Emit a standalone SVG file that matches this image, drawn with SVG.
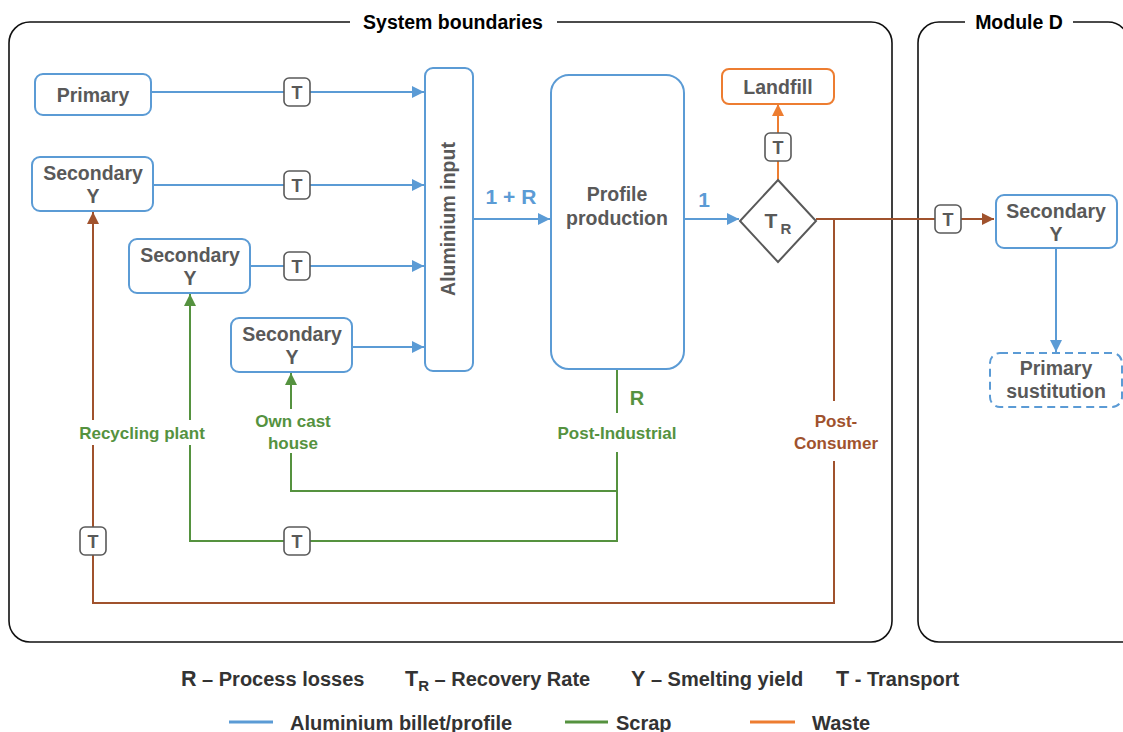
<svg xmlns="http://www.w3.org/2000/svg" width="1123" height="732" viewBox="0 0 1123 732">
<defs>
<style>
.bnd{fill:none;stroke:#111;stroke-width:1.6}
.ttl{font-family:"Liberation Sans",Arial,sans-serif;font-weight:bold;font-size:19.5px;fill:#000}
.node{fill:#fff;stroke:#5b9bd5;stroke-width:2}
.nodeo{fill:#fff;stroke:#ed7d31;stroke-width:2}
.noded{fill:#fff;stroke:#5b9bd5;stroke-width:2;stroke-dasharray:8,5}
.nt{font-family:"Liberation Sans",Arial,sans-serif;font-weight:bold;font-size:19.5px;fill:#595959;text-anchor:middle}
.tbox{fill:#fff;stroke:#595959;stroke-width:1.6}
.tt{font-family:"Liberation Sans",Arial,sans-serif;font-weight:bold;font-size:18px;fill:#595959;text-anchor:middle}
.b{fill:none;stroke:#5b9bd5;stroke-width:2}
.g{fill:none;stroke:#55923f;stroke-width:2}
.r{fill:none;stroke:#a0522d;stroke-width:2}
.o{fill:none;stroke:#ed7d31;stroke-width:2}
.lb{font-family:"Liberation Sans",Arial,sans-serif;font-weight:bold;font-size:21px;fill:#5b9bd5;text-anchor:middle}
.lg{font-family:"Liberation Sans",Arial,sans-serif;font-weight:bold;font-size:17px;fill:#55923f;text-anchor:middle}
.lr{font-family:"Liberation Sans",Arial,sans-serif;font-weight:bold;font-size:17px;fill:#a0522d;text-anchor:middle}
.leg{font-family:"Liberation Sans",Arial,sans-serif;font-weight:bold;font-size:20px;fill:#333}
</style>
<marker id="ab" viewBox="0 0 10 10" refX="10" refY="5" markerWidth="12" markerHeight="12" markerUnits="userSpaceOnUse" orient="auto"><path d="M0,0 L10,5 L0,10 z" fill="#5b9bd5"/></marker>
<marker id="ag" viewBox="0 0 10 10" refX="10" refY="5" markerWidth="12" markerHeight="12" markerUnits="userSpaceOnUse" orient="auto"><path d="M0,0 L10,5 L0,10 z" fill="#55923f"/></marker>
<marker id="ar" viewBox="0 0 10 10" refX="10" refY="5" markerWidth="12" markerHeight="12" markerUnits="userSpaceOnUse" orient="auto"><path d="M0,0 L10,5 L0,10 z" fill="#a0522d"/></marker>
<marker id="ao" viewBox="0 0 10 10" refX="10" refY="5" markerWidth="12" markerHeight="12" markerUnits="userSpaceOnUse" orient="auto"><path d="M0,0 L10,5 L0,10 z" fill="#ed7d31"/></marker>
</defs>
<rect width="1123" height="732" fill="#fff"/>

<g id="system-boundaries">
<path class="bnd" d="M350,22 H30 A21,21 0 0 0 9,43 V621 A21,21 0 0 0 30,642 H871 A21,21 0 0 0 892,621 V43 A21,21 0 0 0 871,22 H557"/>
<text class="ttl" x="453" y="29" text-anchor="middle">System boundaries</text>
</g>
<g id="module-d">
<path class="bnd" d="M965,22 H939 A21,21 0 0 0 918,43 V621 A21,21 0 0 0 939,642 H1123 M1073,22 H1108 A21,21 0 0 1 1129,43"/>
<text class="ttl" x="1019" y="29" text-anchor="middle">Module D</text>
</g>

<g id="connectors">
<path class="b" d="M151,92 H284"/>
<path class="b" d="M310,92 H424" marker-end="url(#ab)"/>
<path class="b" d="M153,185 H284"/>
<path class="b" d="M310,185 H424" marker-end="url(#ab)"/>
<path class="b" d="M250,266 H284"/>
<path class="b" d="M310,266 H424" marker-end="url(#ab)"/>
<path class="b" d="M352,347 H424" marker-end="url(#ab)"/>
<path class="b" d="M473,219 H550" marker-end="url(#ab)"/>
<path class="b" d="M684,219 H739" marker-end="url(#ab)"/>
<path class="b" d="M1056,248 V352" marker-end="url(#ab)"/>
<path class="o" d="M778,180 V161"/>
<path class="o" d="M778,133 V104" marker-end="url(#ao)"/>
<path class="r" d="M816,219 H935"/>
<path class="r" d="M961,219 H994" marker-end="url(#ar)"/>
<path class="r" d="M834,219 V401"/>
<path class="r" d="M834,461 V603 H93 V555"/>
<path class="r" d="M93,527 V445"/>
<path class="r" d="M93,420 V212" marker-end="url(#ar)"/>
<path class="g" d="M617,369 V413"/>
<path class="g" d="M617,452 V541 H310"/>
<path class="g" d="M284,541 H190 V445"/>
<path class="g" d="M190,420 V294" marker-end="url(#ag)"/>
<path class="g" d="M617,491 H291 V453"/>
<path class="g" d="M291,409 V373" marker-end="url(#ag)"/>
<text class="lb" x="511" y="204">1 + R</text>
<text class="lb" x="704" y="207">1</text>
<text class="lg" x="637" y="405" style="font-size:20px">R</text>
<text class="lg" x="617" y="439">Post-Industrial</text>
<text class="lg" x="142" y="439">Recycling plant</text>
<text class="lg" x="293" y="427">Own cast</text>
<text class="lg" x="293" y="449">house</text>
<text class="lr" x="836" y="427">Post-</text>
<text class="lr" x="836" y="449">Consumer</text>
</g>

<g id="t1"><rect class="tbox" x="284" y="78" width="26" height="28" rx="5"/><text class="tt" x="297" y="99">T</text></g>
<g id="t2"><rect class="tbox" x="284" y="171" width="26" height="28" rx="5"/><text class="tt" x="297" y="192">T</text></g>
<g id="t3"><rect class="tbox" x="284" y="252" width="26" height="28" rx="5"/><text class="tt" x="297" y="273">T</text></g>
<g id="t4"><rect class="tbox" x="765" y="133" width="26" height="28" rx="5"/><text class="tt" x="778" y="154">T</text></g>
<g id="t5"><rect class="tbox" x="935" y="205" width="26" height="28" rx="5"/><text class="tt" x="948" y="226">T</text></g>
<g id="t6"><rect class="tbox" x="80" y="527" width="26" height="28" rx="5"/><text class="tt" x="93" y="548">T</text></g>
<g id="t7"><rect class="tbox" x="284" y="527" width="26" height="28" rx="5"/><text class="tt" x="297" y="548">T</text></g>

<g id="primary"><rect class="node" x="35" y="74" width="116" height="41" rx="8"/><text class="nt" x="93" y="102">Primary</text></g>
<g id="secondary1"><rect class="node" x="32" y="157" width="121" height="54" rx="8"/><text class="nt" x="93" y="180">Secondary</text><text class="nt" x="93" y="203">Y</text></g>
<g id="secondary2"><rect class="node" x="129" y="239" width="121" height="54" rx="8"/><text class="nt" x="190" y="262">Secondary</text><text class="nt" x="190" y="285">Y</text></g>
<g id="secondary3"><rect class="node" x="231" y="318" width="121" height="54" rx="8"/><text class="nt" x="292" y="341">Secondary</text><text class="nt" x="292" y="364">Y</text></g>
<g id="aluminium-input"><rect class="node" x="425" y="68" width="48" height="303" rx="8"/><text class="nt" transform="translate(455,219) rotate(-90)">Aluminium input</text></g>
<g id="profile-production"><rect class="node" x="551" y="75" width="133" height="294" rx="18"/><text class="nt" x="617" y="201">Profile</text><text class="nt" x="617" y="225">production</text></g>
<g id="landfill"><rect class="nodeo" x="722" y="69" width="112" height="35" rx="7"/><text class="nt" x="778" y="94">Landfill</text></g>
<g id="recovery-rate"><path d="M778,180 L816,221 L778,262 L740,221 Z" fill="#fff" stroke="#595959" stroke-width="2"/><text class="nt" x="771" y="228" style="font-size:21px">T</text><text class="nt" x="786" y="234" style="font-size:15px">R</text></g>
<g id="secondary-d"><rect class="node" x="996" y="195" width="121" height="53" rx="8"/><text class="nt" x="1056" y="218">Secondary</text><text class="nt" x="1056" y="241">Y</text></g>
<g id="primary-substitution"><rect class="noded" x="990" y="353" width="132" height="54" rx="10"/><text class="nt" x="1056" y="375">Primary</text><text class="nt" x="1056" y="398">sustitution</text></g>

<g id="legend">
<text class="leg" x="181" y="686"><tspan style="font-size:21.5px">R</tspan> – Process losses</text>
<text class="leg" x="405" y="686"><tspan style="font-size:21.5px">T</tspan><tspan style="font-size:15px" dy="5">R</tspan><tspan dy="-5"> – Recovery Rate</tspan></text>
<text class="leg" x="631" y="686"><tspan style="font-size:21.5px">Y</tspan> – Smelting yield</text>
<text class="leg" x="836" y="686"><tspan style="font-size:21.5px">T</tspan> - Transport</text>
<line x1="229" y1="722" x2="273" y2="722" stroke="#5b9bd5" stroke-width="3"/>
<text class="leg" x="290" y="730">Aluminium billet/profile</text>
<line x1="565" y1="722" x2="608" y2="722" stroke="#55923f" stroke-width="3"/>
<text class="leg" x="616" y="730">Scrap</text>
<line x1="750" y1="722" x2="795" y2="722" stroke="#ed7d31" stroke-width="3"/>
<text class="leg" x="812" y="730">Waste</text>
</g>
</svg>
